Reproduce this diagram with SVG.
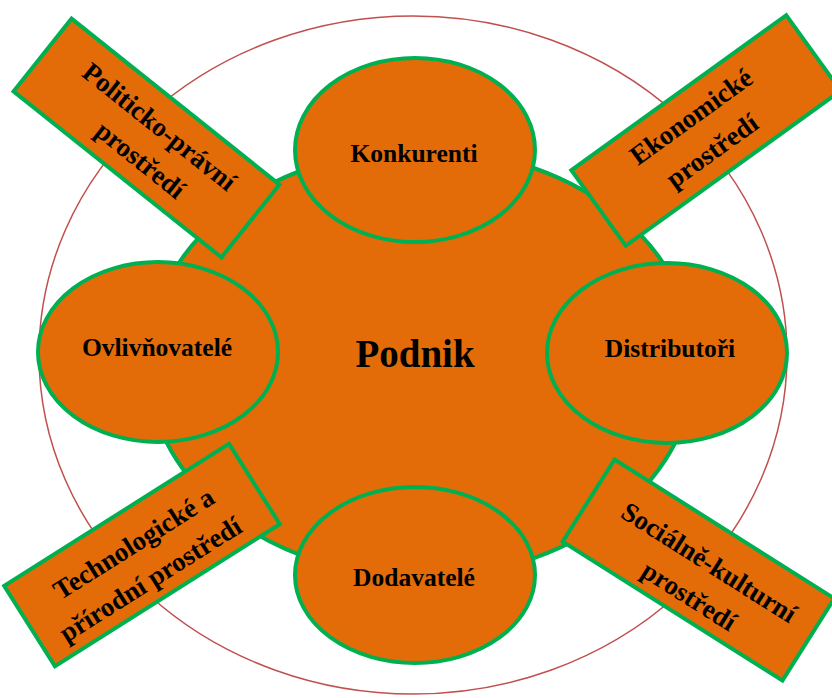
<svg xmlns="http://www.w3.org/2000/svg" width="832" height="698" viewBox="0 0 832 698">
<style>
.shape{fill:#E36C09;stroke:#00B050;stroke-width:4}
.lbl{font-family:"Liberation Serif","Times New Roman",serif;font-weight:bold;fill:#000;text-anchor:middle}
.s{font-size:25.5px}
.b{font-size:27px}
</style>
<rect width="832" height="698" fill="#fff"/>
<g id="boundary">
<ellipse cx="413" cy="355" rx="374" ry="339" fill="none" stroke="#C0504D" stroke-width="1.5"/>
</g>
<g id="podnik">
<ellipse class="shape" cx="421" cy="363" rx="274" ry="214"/>
<text class="lbl" x="415" y="367" font-size="39px">Podnik</text>
</g>
<g id="konkurenti">
<ellipse class="shape" cx="415" cy="150" rx="120" ry="92"/>
<text class="lbl s" x="414" y="162">Konkurenti</text>
</g>
<g id="ovlivnovatele">
<ellipse class="shape" cx="158" cy="352" rx="120" ry="90"/>
<text class="lbl s" x="157" y="356">Ovlivňovatelé</text>
</g>
<g id="distributori">
<ellipse class="shape" cx="667" cy="353" rx="120" ry="90"/>
<text class="lbl s" x="670" y="357">Distributoři</text>
</g>
<g id="dodavatele">
<ellipse class="shape" cx="415" cy="575" rx="120" ry="88"/>
<text class="lbl s" x="414" y="586">Dodavatelé</text>
</g>
<g id="politicko-pravni" transform="translate(146.5,138) rotate(38.6)">
<rect class="shape" x="-133" y="-46.5" width="266" height="93"/>
<text class="lbl b" x="3" y="-8">Politicko-právní</text>
<text class="lbl b" x="9" y="30">prostředí</text>
</g>
<g id="ekonomicke" transform="translate(706,130.5) rotate(-35.8)">
<rect class="shape" x="-132.5" y="-46.5" width="265" height="93"/>
<text class="lbl b" x="-4" y="-11">Ekonomické</text>
<text class="lbl b" x="-7" y="29">prostředí</text>
</g>
<g id="technologicke" transform="translate(142,555) rotate(-32.3)">
<rect class="shape" x="-133" y="-47.5" width="266" height="95"/>
<text class="lbl b" x="-1" y="-5">Technologické a</text>
<text class="lbl b" x="-6" y="34">přírodní prostředí</text>
</g>
<g id="socialne-kulturni" transform="translate(698.5,570) rotate(32.3)">
<rect class="shape" x="-130" y="-48.5" width="260" height="97"/>
<text class="lbl b" x="5" y="-3">Sociálně-kulturní</text>
<text class="lbl b" x="6" y="36">prostředí</text>
</g>
<g id="connectors"/>
</svg>
